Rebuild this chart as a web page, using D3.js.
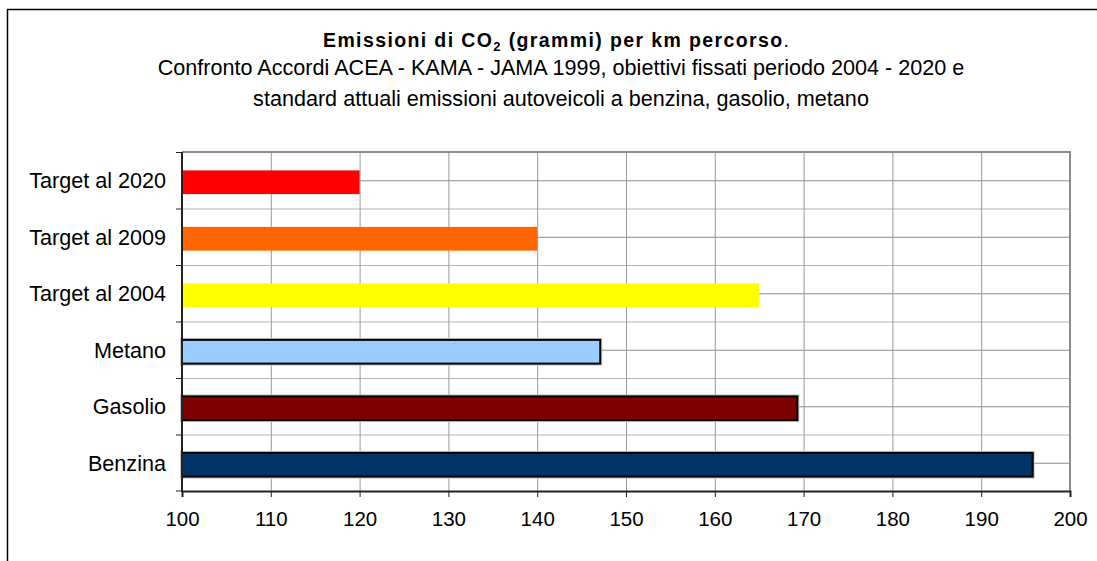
<!DOCTYPE html>
<html>
<head>
<meta charset="utf-8">
<script src="https://cdn.jsdelivr.net/npm/d3@7"></script>
<style>
  html, body { margin: 0; padding: 0; background: #fff; }
  svg { display: block; font-family: "Liberation Sans", Arial, sans-serif; }
</style>
</head>
<body>
<svg id="chart" width="1097" height="561"></svg>
<script>
// ---- data ----
const categories = ["Target al 2020", "Target al 2009", "Target al 2004", "Metano", "Gasolio", "Benzina"];
const values = [120, 140, 165, 147.1, 169.3, 195.8];
const barColors = ["#FF0000", "#FF6600", "#FFFF00", "#99CCFF", "#800000", "#003366"];
const outlined = [false, false, false, true, true, true];
const xTicks = [100, 110, 120, 130, 140, 150, 160, 170, 180, 190, 200];
const titleMain = "Emissioni di CO";
const titleSub = "2";
const titleRest = " (grammi) per km percorso";
const subtitleLines = [
  "Confronto Accordi ACEA - KAMA - JAMA 1999, obiettivi fissati periodo 2004 - 2020 e",
  "standard attuali emissioni autoveicoli a benzina, gasolio, metano"
];

// ---- layout ----
const svg = d3.select("#chart");
const plot = { left: 182, right: 1070, top: 152, bottom: 491 };

// outer frame (continues past the right and bottom edges)
svg.append("rect")
  .attr("x", 7.5).attr("y", 9.5)
  .attr("width", 1200).attr("height", 700)
  .attr("fill", "#fff").attr("stroke", "#000").attr("stroke-width", 1.5);

const x = d3.scaleLinear().domain([100, 200]).range([plot.left, plot.right]);
const y = d3.scaleBand().domain(categories).range([plot.top, plot.bottom]).padding(0);
const bw = y.bandwidth();
const barH = bw * 0.42;

// grid: horizontal at band boundaries (light) and band centers (darker)
const g = svg.append("g");
categories.forEach((c, i) => {
  if (i > 0) {
    g.append("line").attr("x1", plot.left).attr("x2", plot.right)
      .attr("y1", y(c) + 0.5).attr("y2", y(c) + 0.5)
      .attr("stroke", "#b4b4b4").attr("stroke-width", 1);
  }
  g.append("line").attr("x1", plot.left).attr("x2", plot.right)
    .attr("y1", y(c) + bw / 2 + 0.5).attr("y2", y(c) + bw / 2 + 0.5)
    .attr("stroke", "#8c8c8c").attr("stroke-width", 1);
});
// vertical gridlines
xTicks.slice(1, -1).forEach(t => {
  g.append("line").attr("x1", x(t) + 0.5).attr("x2", x(t) + 0.5)
    .attr("y1", plot.top).attr("y2", plot.bottom)
    .attr("stroke", "#999").attr("stroke-width", 1);
});
// plot frame top & right
g.append("path")
  .attr("d", `M${plot.left},${plot.top}H${plot.right}V${plot.bottom}`)
  .attr("fill", "none").attr("stroke", "#8c8c8c").attr("stroke-width", 2);

// bars
const bars = svg.append("g");
categories.forEach((c, i) => {
  const by = y(c) + bw / 2 - barH / 2 + 2;
  if (outlined[i]) {
    bars.append("rect")
      .attr("x", x(100)).attr("y", by)
      .attr("width", x(values[i]) - x(100)).attr("height", barH)
      .attr("fill", "none").attr("stroke", "#c8c8c8").attr("stroke-width", 4);
  }
  bars.append("rect")
    .attr("x", x(100)).attr("y", by)
    .attr("width", x(values[i]) - x(100)).attr("height", barH)
    .attr("fill", barColors[i])
    .attr("stroke", outlined[i] ? "#000" : "none")
    .attr("stroke-width", outlined[i] ? 2 : 0);
});

// x axis
const xAxis = d3.axisBottom(x).tickValues(xTicks).tickSize(6).tickPadding(14)
  .tickFormat(d3.format("d"));
const xa = svg.append("g").attr("transform", `translate(0,${plot.bottom})`).call(xAxis);
xa.select(".domain").attr("stroke", "#222").attr("stroke-width", 2);
xa.selectAll(".tick line").attr("stroke", "#222");
xa.selectAll("text").attr("font-size", 20.5).attr("fill", "#000")
  .attr("font-family", "Liberation Sans, Arial, sans-serif");

// y axis (ticks at band boundaries)
const ya = svg.append("g").attr("transform", `translate(${plot.left},0)`);
ya.append("line").attr("x1", 0).attr("x2", 0)
  .attr("y1", plot.top).attr("y2", plot.bottom + 1)
  .attr("stroke", "#222").attr("stroke-width", 2);
categories.forEach((c, i) => {
  ya.append("line").attr("x1", -6).attr("x2", 0)
    .attr("y1", y(c) + 0.5).attr("y2", y(c) + 0.5)
    .attr("stroke", "#222").attr("stroke-width", 1);
});
ya.append("line").attr("x1", -6).attr("x2", 0)
  .attr("y1", plot.bottom).attr("y2", plot.bottom)
  .attr("stroke", "#222").attr("stroke-width", 1);
categories.forEach((c, i) => {
  ya.append("text")
    .attr("x", -16).attr("y", y(c) + bw / 2 + 8)
    .attr("text-anchor", "end")
    .attr("font-size", 21.6).attr("fill", "#000")
    .text(c);
});

// title
const title = svg.append("text")
  .attr("x", 323).attr("y", 47)
  .attr("font-size", 19.5).attr("font-weight", "bold").attr("fill", "#000")
  .attr("textLength", 466).attr("lengthAdjust", "spacing");
title.append("tspan").text(titleMain);
title.append("tspan").attr("dy", 4).attr("font-size", 13).text(titleSub);
title.append("tspan").attr("dy", -4).text(titleRest);
title.append("tspan").attr("font-weight", "normal").text(".");

// subtitle
subtitleLines.forEach((line, i) => {
  svg.append("text")
    .attr("x", 561).attr("y", 75 + i * 31)
    .attr("text-anchor", "middle")
    .attr("font-size", 21.6).attr("fill", "#000")
    .text(line);
});
</script>
</body>
</html>
